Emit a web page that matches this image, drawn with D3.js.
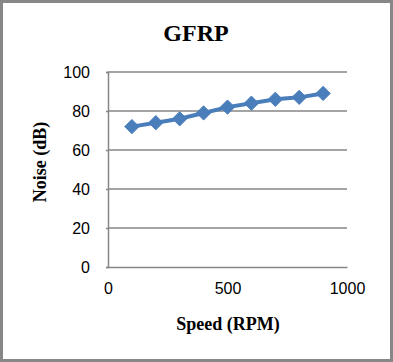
<!DOCTYPE html>
<html>
<head>
<meta charset="utf-8">
<script src="https://cdn.jsdelivr.net/npm/d3@7"></script>
<style>
    body { margin: 0; background: #fff; }
    svg { display: block; }
    .tick text { font-family: "Liberation Sans", Arial, sans-serif; font-size: 16px; fill: #000; }
    .ttl { font-family: "Liberation Serif", "Times New Roman", serif; font-weight: bold; fill: #000; }
</style>
</head>
<body>
<div id="chart"></div>
<script>
// Noise vs speed, GFRP gear
const speed = [100, 200, 300, 400, 500, 600, 700, 800, 900];
const noise = [72, 74, 76, 79, 82, 84, 86, 87, 89];
const xTicks = [0, 500, 1000];
const yTicks = [0, 20, 40, 60, 80, 100];

const width = 393, height = 362;
const margin = {top: 72, right: 46, bottom: 95, left: 108};

const svg = d3.select("#chart").append("svg")
    .attr("width", width)
    .attr("height", height);

// outer frame
svg.append("rect")
    .attr("x", 1.5).attr("y", 1.5)
    .attr("width", width - 3).attr("height", height - 3)
    .attr("fill", "#fff")
    .attr("stroke", "#878787")
    .attr("stroke-width", 3);

const x = d3.scaleLinear().domain([0, 1000]).range([margin.left, width - margin.right]);
const y = d3.scaleLinear().domain([0, 100]).range([height - margin.bottom, margin.top]);

// gridlines
svg.append("g")
    .selectAll("line")
    .data(yTicks.filter(d => d > 0))
    .enter().append("line")
    .attr("x1", margin.left)
    .attr("x2", width - margin.right)
    .attr("y1", d => y(d))
    .attr("y2", d => y(d))
    .attr("stroke", "#868686")
    .attr("stroke-width", 1.5);

// y axis
let yAxis = svg.append("g")
    .attr("transform", "translate(" + margin.left + ",0)")
    .call(d3.axisLeft(y).tickValues(yTicks).tickSize(2).tickPadding(16));
yAxis.select(".domain").attr("stroke", "#868686").attr("stroke-width", 1.5);
yAxis.selectAll(".tick line").attr("stroke", "#868686").attr("stroke-width", 1.5);

// x axis
let xAxis = svg.append("g")
    .attr("transform", "translate(0," + y(0) + ")")
    .call(d3.axisBottom(x).tickValues(xTicks).tickFormat(d3.format("d")).tickSize(0).tickPadding(16));
xAxis.select(".domain").attr("stroke", "#868686").attr("stroke-width", 1.5);

// line + markers
const line = d3.line()
    .x((d, i) => x(speed[i]))
    .y(d => y(d));

svg.append("path")
    .datum(noise)
    .attr("d", line)
    .attr("fill", "none")
    .attr("stroke", "#4a7ebb")
    .attr("stroke-width", 4);

svg.append("g")
    .selectAll("path")
    .data(noise)
    .enter().append("path")
    .attr("transform", (d, i) => "translate(" + x(speed[i]) + "," + y(d) + ")")
    .attr("d", d3.symbol().type(d3.symbolDiamond2).size(130))
    .attr("fill", "#4a7ebb")
    .attr("stroke", "#4a7ebb")
    .attr("stroke-width", 1);

// titles
svg.append("text")
    .attr("class", "ttl")
    .attr("x", 196).attr("y", 41)
    .attr("text-anchor", "middle")
    .style("font-size", "24px")
    .text("GFRP");

svg.append("text")
    .attr("class", "ttl")
    .attr("x", 228).attr("y", 330)
    .attr("text-anchor", "middle")
    .style("font-size", "18px")
    .text("Speed (RPM)");

svg.append("text")
    .attr("class", "ttl")
    .attr("transform", "translate(46,162) rotate(-90)")
    .attr("text-anchor", "middle")
    .style("font-size", "18px")
    .text("Noise (dB)");
</script>
</body>
</html>
